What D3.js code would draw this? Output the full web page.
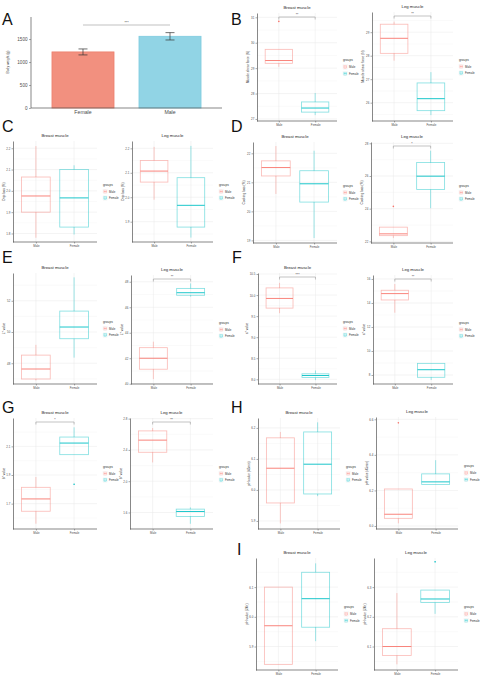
<!DOCTYPE html>
<html lang="en">
<head>
<meta charset="UTF-8">
<title>Meat quality by sex</title>
<script src="https://cdnjs.cloudflare.com/ajax/libs/d3/7.8.5/d3.min.js"></script>
<style>
    body { margin: 0; background: #fff; }
    text { font-family: "Liberation Sans", Arial, sans-serif; }
</style>
</head>
<body>
<div id="wrapper"></div>
<script>
// ---- panel A: body weight
const sexes = ["Female", "Male"];
const bodyWeight = [1220, 1560];
const bodyWeightSE = [65, 80];
const weightTicks = [0, 500, 1000, 1500];

// ---- box panels: [lower whisker, Q1, median, Q3, upper whisker], Male then Female
const groups = ["Male", "Female"];

const shearBreast = [[29.05, 29.19, 29.30, 29.74, 29.74], [27.15, 27.27, 27.43, 27.67, 28.02]];
const shearBreastOut = [[30.84], []];
const shearLeg = [[27.79, 28.10, 28.74, 29.34, 29.45], [25.47, 25.66, 26.17, 26.84, 27.30]];
const dripBreast = [[1.78, 1.90, 1.976, 2.065, 2.21], [1.795, 1.83, 1.967, 2.10, 2.12]];
const dripLeg = [[1.99, 2.062, 2.107, 2.15, 2.206], [1.835, 1.878, 1.967, 2.08, 2.21]];
const cookBreast = [[20.6, 21.22, 21.51, 21.74, 22.25], [19.08, 20.32, 20.95, 21.40, 22.09]];
const cookLeg = [[22.2, 22.35, 22.46, 22.87, 22.87], [24.03, 25.17, 25.99, 26.82, 27.55]];
const cookLegOut = [[24.14], []];
const lBreast = [[46.9, 46.99, 47.63, 48.52, 49.18], [48.36, 49.57, 50.32, 51.34, 53.5]];
const lLeg = [[40.36, 41.14, 42.0, 42.83, 43.3], [46.83, 46.94, 47.14, 47.48, 47.87]];
const aBreast = [[9.57, 9.69, 9.92, 10.17, 10.29], [7.98, 8.04, 8.09, 8.13, 8.21]];
const aLeg = [[13.19, 14.25, 14.78, 15.06, 15.58], [7.58, 7.81, 8.44, 8.97, 8.97]];
const bBreast = [[1.56, 1.647, 1.733, 1.814, 1.886], [2.042, 2.042, 2.123, 2.165, 2.233]];
const bBreastOut = [[], [1.835]];
const bLeg = [[2.24, 2.37, 2.525, 2.643, 2.68], [1.456, 1.55, 1.613, 1.643, 1.665]];
const ph45Breast = [[5.892, 5.958, 6.07, 6.168, 6.187], [5.98, 5.987, 6.083, 6.187, 6.218]];
const ph45Leg = [[6.015, 6.043, 6.066, 6.208, 6.208], [6.233, 6.233, 6.248, 6.293, 6.37]];
const ph45LegOut = [[6.58], []];
const ph24Breast = [[5.84, 5.84, 5.97, 6.10, 6.10], [5.918, 5.965, 6.061, 6.15, 6.18]];
const ph24Leg = [[6.04, 6.07, 6.10, 6.16, 6.28], [6.21, 6.248, 6.26, 6.29, 6.29]];
const ph24LegOut = [[], [6.385]];

// tick labels
const shearBreastTicks = [27, 28, 29, 30, 31];
const shearLegTicks = [26, 27, 28, 29];
const dripBreastTicks = [1.8, 1.9, 2.0, 2.1, 2.2];
const dripLegTicks = [1.9, 2.0, 2.1, 2.2];
const cookBreastTicks = [19, 20, 21, 22];
const cookLegTicks = [22, 24, 26, 28];
const lBreastTicks = [48, 50, 52];
const lLegTicks = [40, 42, 44, 46, 48];
const aBreastTicks = [8.0, 8.5, 9.0, 9.5, 10.0, 10.5];
const aLegTicks = [8, 10, 12, 14, 16];
const bBreastTicks = [1.7, 1.9, 2.1];
const bLegTicks = [1.6, 2.0, 2.4, 2.8];
const ph45BreastTicks = [5.9, 6.0, 6.1, 6.2];
const ph45LegTicks = [6.0, 6.2, 6.4, 6.6];
const ph24BreastTicks = [5.9, 6.0, 6.1];
const ph24LegTicks = [6.1, 6.2, 6.3];

const colors = { Male: "#F8766D", Female: "#00BFC4" };

const panels = [
    { stats: shearBreast, out: shearBreastOut, ticks: shearBreastTicks, fmt: "d", title: "Breast muscle", ylab: "Muscle shear force (N)", sig: "**", x: [257, 337], y: [13, 121], dom: [26.92, 31.17] },
    { stats: shearLeg, ticks: shearLegTicks, fmt: "d", title: "Leg muscle", ylab: "Muscle shear force (N)", sig: "**", x: [372, 453], y: [12, 121], dom: [25.22, 29.86] },
    { stats: dripBreast, ticks: dripBreastTicks, fmt: ".1f", title: "Breast muscle", ylab: "Drip loss (%)", x: [13, 97], y: [141, 242], dom: [1.76, 2.234] },
    { stats: dripLeg, ticks: dripLegTicks, fmt: ".1f", title: "Leg muscle", ylab: "Drip loss (%)", x: [132, 213], y: [141, 242], dom: [1.817, 2.23] },
    { stats: cookBreast, ticks: cookBreastTicks, fmt: "d", title: "Breast muscle", ylab: "Cooking loss (%)", x: [253, 337], y: [142, 243], dom: [18.91, 22.39] },
    { stats: cookLeg, out: cookLegOut, ticks: cookLegTicks, fmt: "d", title: "Leg muscle", ylab: "Cooking loss (%)", sig: "*", x: [371, 453], y: [142, 243], dom: [21.9, 28.08] },
    { stats: lBreast, ticks: lBreastTicks, fmt: "d", title: "Breast muscle", ylab: "L* value", x: [13, 97], y: [273, 384], dom: [46.67, 53.78] },
    { stats: lLeg, ticks: lLegTicks, fmt: "d", title: "Leg muscle", ylab: "L* value", sig: "**", x: [131, 213], y: [275, 384], dom: [39.98, 48.53] },
    { stats: aBreast, ticks: aBreastTicks, fmt: ".1f", title: "Breast muscle", ylab: "a* value", sig: "***", x: [258, 337], y: [273, 384], dom: [7.888, 10.524] },
    { stats: aLeg, ticks: aLegTicks, fmt: "d", title: "Leg muscle", ylab: "a* value", sig: "**", x: [373, 453], y: [275, 384], dom: [7.25, 16.33] },
    { stats: bBreast, out: bBreastOut, ticks: bBreastTicks, fmt: ".1f", title: "Breast muscle", ylab: "b* value", sig: "*", x: [13, 97], y: [418, 529], dom: [1.523, 2.298] },
    { stats: bLeg, ticks: bLegTicks, fmt: ".1f", title: "Leg muscle", ylab: "b* value", sig: "**", x: [130, 213], y: [418, 529], dom: [1.389, 2.808] },
    { stats: ph45Breast, ticks: ph45BreastTicks, fmt: ".1f", title: "Breast muscle", ylab: "pH value (45min)", x: [258, 340], y: [418, 529], dom: [5.874, 6.232] },
    { stats: ph45Leg, out: ph45LegOut, ticks: ph45LegTicks, fmt: ".1f", title: "Leg muscle", ylab: "pH value (45min)", x: [376, 458], y: [417, 529], dom: [5.983, 6.613] },
    { stats: ph24Breast, ticks: ph24BreastTicks, fmt: ".1f", title: "Breast muscle", ylab: "pH value (24h)", x: [256, 338], y: [558, 670], dom: [5.821, 6.198] },
    { stats: ph24Leg, out: ph24LegOut, ticks: ph24LegTicks, fmt: ".1f", title: "Leg muscle", ylab: "pH value (24h)", x: [374, 458], y: [558, 670], dom: [6.021, 6.398] },
];

const letters = [
    ["A", 2, 25], ["B", 231, 25], ["C", 2, 132], ["D", 231, 132],
    ["E", 2, 263], ["F", 232, 263], ["G", 2, 413], ["H", 231, 413], ["I", 237, 555],
];

const svg = d3.select("#wrapper").append("svg")
    .attr("width", 484)
    .attr("height", 685);

function styleAxis(ax, size) {
    ax.selectAll("path").attr("stroke", "#555").attr("stroke-width", 0.7);
    ax.selectAll("line").attr("stroke", "#555").attr("stroke-width", 0.5);
    ax.selectAll("text").attr("fill", "#4d4d4d").style("font-size", size || "2.9px");
}

function drawBoxPanel(p) {
    const x = d3.scalePoint().domain(groups).range(p.x).padding(0.6);
    const y = d3.scaleLinear().domain(p.dom).range([p.y[1], p.y[0]]);
    const bw = x.step() * 0.75;
    const g = svg.append("g");

    // grid
    const step = p.ticks[1] - p.ticks[0];
    const minor = [];
    for (let v = p.ticks[0] - step / 2; v <= p.dom[1]; v += step) {
        if (v >= p.dom[0]) minor.push(v);
    }
    g.selectAll(".minor").data(minor).join("line")
        .attr("x1", p.x[0]).attr("x2", p.x[1])
        .attr("y1", d => y(d)).attr("y2", d => y(d))
        .attr("stroke", "#f3f3f3").attr("stroke-width", 0.4);
    g.selectAll(".major").data(p.ticks).join("line")
        .attr("x1", p.x[0]).attr("x2", p.x[1])
        .attr("y1", d => y(d)).attr("y2", d => y(d))
        .attr("stroke", "#e8e8e8").attr("stroke-width", 0.5);
    g.selectAll(".vgrid").data(groups).join("line")
        .attr("x1", d => x(d)).attr("x2", d => x(d))
        .attr("y1", p.y[0]).attr("y2", p.y[1])
        .attr("stroke", "#e8e8e8").attr("stroke-width", 0.5);

    // boxes
    groups.forEach((grp, i) => {
        const s = p.stats[i];
        const cx = x(grp);
        const c = colors[grp];
        const bg = g.append("g");
        bg.append("line")
            .attr("x1", cx).attr("x2", cx)
            .attr("y1", y(s[3])).attr("y2", y(s[4]))
            .attr("stroke", c).attr("stroke-opacity", 0.55).attr("stroke-width", 0.7);
        bg.append("line")
            .attr("x1", cx).attr("x2", cx)
            .attr("y1", y(s[1])).attr("y2", y(s[0]))
            .attr("stroke", c).attr("stroke-opacity", 0.55).attr("stroke-width", 0.7);
        bg.append("rect")
            .attr("x", cx - bw / 2).attr("width", bw)
            .attr("y", y(s[3])).attr("height", Math.max(0.5, y(s[1]) - y(s[3])))
            .attr("fill", "none")
            .attr("stroke", c).attr("stroke-opacity", 0.5).attr("stroke-width", 0.8);
        bg.append("line")
            .attr("x1", cx - bw / 2).attr("x2", cx + bw / 2)
            .attr("y1", y(s[2])).attr("y2", y(s[2]))
            .attr("stroke", c).attr("stroke-width", 0.9);
        const outs = p.out ? p.out[i] : [];
        bg.selectAll("circle").data(outs).join("circle")
            .attr("cx", cx).attr("cy", d => y(d)).attr("r", 0.8)
            .attr("fill", c);
    });

    // axes
    const ay = g.append("g")
        .attr("transform", `translate(${p.x[0]},0)`)
        .call(d3.axisLeft(y).tickValues(p.ticks).tickFormat(d3.format(p.fmt)).tickSize(1.5).tickSizeOuter(0).tickPadding(1.2));
    styleAxis(ay);
    const ax = g.append("g")
        .attr("transform", `translate(0,${p.y[1]})`)
        .call(d3.axisBottom(x).tickSize(1.5).tickSizeOuter(0).tickPadding(1.5));
    ax.select(".domain").attr("d", `M${p.x[0]},0H${p.x[1]}`);
    styleAxis(ax);

    g.append("text")
        .attr("x", (p.x[0] + p.x[1]) / 2).attr("y", p.y[0] - 4)
        .attr("text-anchor", "middle").attr("fill", "#222")
        .style("font-size", "4.3px").text(p.title);

    // y title sits just left of the widest tick label
    let labLeft = p.x[0] - 6;
    ay.selectAll(".tick text").each(function () {
        const b = this.getBBox();
        labLeft = Math.min(labLeft, p.x[0] + b.x);
    });
    g.append("text")
        .attr("transform", `translate(${labLeft - 1.6},${(p.y[0] + p.y[1]) / 2}) rotate(-90)`)
        .attr("text-anchor", "middle").attr("fill", "#333")
        .style("font-size", "3.2px").text(p.ylab);

    // significance bracket
    if (p.sig) {
        const by = p.y[0] + 4;
        const x1 = x(groups[0]), x2 = x(groups[1]);
        g.append("path")
            .attr("d", `M${x1},${by + 2.5}V${by}H${x2}V${by + 2.5}`)
            .attr("fill", "none").attr("stroke", "#9a9a9a").attr("stroke-width", 0.6);
        g.append("text")
            .attr("x", (x1 + x2) / 2).attr("y", by - 0.6)
            .attr("text-anchor", "middle").attr("fill", "#444")
            .style("font-size", "3.4px").text(p.sig);
    }

    // legend
    const mid = (p.y[0] + p.y[1]) / 2;
    const lx = p.x[1] + 6;
    const lg = g.append("g");
    lg.append("text").attr("x", lx).attr("y", mid - 5.7)
        .attr("fill", "#333").style("font-size", "3.2px").text("groups");
    groups.forEach((grp, i) => {
        const ky = mid + i * 6.6;
        const c = colors[grp];
        lg.append("rect").attr("x", lx).attr("y", ky - 2.2).attr("width", 4.4).attr("height", 4.4)
            .attr("fill", "#fff").attr("stroke", "#ececec").attr("stroke-width", 0.3);
        lg.append("rect").attr("x", lx + 0.9).attr("y", ky - 1.4).attr("width", 2.6).attr("height", 2.8)
            .attr("fill", "none").attr("stroke", c).attr("stroke-opacity", 0.55).attr("stroke-width", 0.5);
        lg.append("line").attr("x1", lx + 0.9).attr("x2", lx + 3.5).attr("y1", ky).attr("y2", ky)
            .attr("stroke", c).attr("stroke-width", 0.5);
        lg.append("text").attr("x", lx + 6).attr("y", ky + 1.1)
            .attr("fill", "#333").style("font-size", "2.9px").text(grp);
    });
}

function drawBars() {
    const x = d3.scaleBand().domain(sexes).range([31, 222]).paddingInner(0.287).paddingOuter(0.241);
    const y = d3.scaleLinear().domain([0, 1980]).range([108, 17]);
    const g = svg.append("g");
    const fills = ["#F2907F", "#91D4E5"];
    const strokes = ["#EC7F6D", "#7ECBDF"];

    g.selectAll("rect").data(sexes).join("rect")
        .attr("x", d => x(d)).attr("width", x.bandwidth())
        .attr("y", (d, i) => y(bodyWeight[i]))
        .attr("height", (d, i) => y(0) - y(bodyWeight[i]))
        .attr("fill", (d, i) => fills[i])
        .attr("stroke", (d, i) => strokes[i]).attr("stroke-width", 0.8);

    sexes.forEach((s, i) => {
        const cx = x(s) + x.bandwidth() / 2;
        const lo = y(bodyWeight[i] - bodyWeightSE[i]);
        const hi = y(bodyWeight[i] + bodyWeightSE[i]);
        g.append("path")
            .attr("d", `M${cx - 4.5},${hi}H${cx + 4.5}M${cx},${hi}V${lo}M${cx - 4.5},${lo}H${cx + 4.5}`)
            .attr("fill", "none").attr("stroke", "#333").attr("stroke-width", 0.7);
    });

    const ay = g.append("g").attr("transform", "translate(31,0)")
        .call(d3.axisLeft(y).tickValues(weightTicks).tickFormat(d3.format("d")).tickSize(2).tickSizeOuter(0).tickPadding(1.5));
    ay.select(".domain").attr("d", "M0,108V17");
    styleAxis(ay, "4.6px");
    const ax = g.append("g").attr("transform", "translate(0,108)")
        .call(d3.axisBottom(x).tickSize(0).tickSizeOuter(0).tickPadding(2.5));
    ax.select(".domain").attr("d", "M31,0H222");
    styleAxis(ax, "5.2px");

    g.append("text")
        .attr("transform", "translate(9,62) rotate(-90)")
        .attr("text-anchor", "middle").attr("fill", "#333")
        .style("font-size", "3.3px").text("Body weight (g)");

    const c1 = x(sexes[0]) + x.bandwidth() / 2;
    const c2 = x(sexes[1]) + x.bandwidth() / 2;
    g.append("line").attr("x1", c1).attr("x2", c2).attr("y1", 25).attr("y2", 25)
        .attr("stroke", "#999").attr("stroke-width", 0.6);
    g.append("text").attr("x", (c1 + c2) / 2).attr("y", 24)
        .attr("text-anchor", "middle").attr("fill", "#444")
        .style("font-size", "3.6px").text("***");
}

drawBars();
panels.forEach(drawBoxPanel);

svg.selectAll(".letter").data(letters).join("text")
    .attr("x", d => d[1]).attr("y", d => d[2])
    .attr("fill", "#111")
    .style("font-size", "16px")
    .text(d => d[0]);
</script>
</body>
</html>
